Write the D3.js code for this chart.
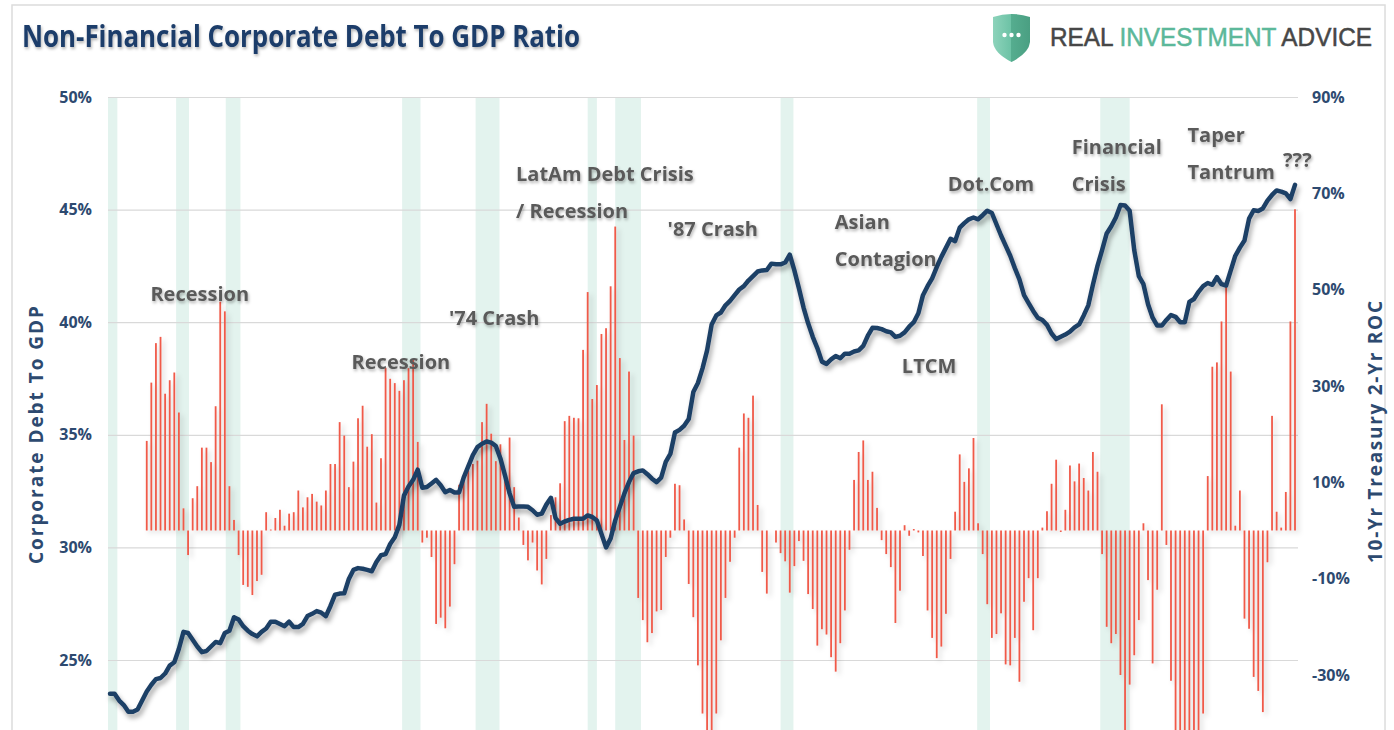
<!DOCTYPE html>
<html>
<head>
<meta charset="utf-8">
<script src="https://cdn.jsdelivr.net/npm/d3@7/dist/d3.min.js"></script>
<style>
  body { margin: 0; background: #fff; }
  svg { display: block; font-family: "Open Sans", sans-serif; }
</style>
</head>
<body>
<div id="chart"></div>
<script>
// Set the stage
var svgWidth = 1394;
var svgHeight = 730;
var plotLeft = 108, plotRight = 1298, plotTop = 97;

// quarterly debt / GDP (%), first point 1954 Q1
var startYear = 1954;
var debtRatio = [
  23.5, 23.5, 23.2, 23.0, 22.7, 22.7, 22.8, 23.2, 23.6, 23.9,
  24.15, 24.2, 24.4, 24.75, 24.9, 25.5, 26.25, 26.2, 25.9, 25.6,
  25.35, 25.4, 25.6, 25.8, 25.75, 26.2, 26.3, 26.9, 26.8, 26.5,
  26.3, 26.15, 26.05, 26.25, 26.4, 26.7, 26.7, 26.6, 26.5, 26.7,
  26.46, 26.46, 26.6, 26.95, 27.05, 27.17, 27.1, 26.95, 27.4, 27.9,
  27.95, 27.96, 28.6, 29.0, 29.08, 29.05, 29.0, 28.94, 29.35, 29.65,
  29.7, 30.15, 30.45, 31.0, 32.3, 32.7, 33.0, 33.45, 32.65, 32.68,
  32.84, 33.0, 32.76, 32.45, 32.55, 32.44, 32.44, 33.1, 33.6, 34.1,
  34.45, 34.6, 34.7, 34.65, 34.5, 33.95, 33.2, 32.4, 31.8, 31.82,
  31.82, 31.8, 31.65, 31.45, 31.5, 31.9, 32.2, 31.3, 31.05, 31.15,
  31.22, 31.27, 31.27, 31.27, 31.42, 31.35, 31.19, 30.6, 30.0, 30.4,
  31.2, 31.8, 32.4, 32.9, 33.3, 33.38, 33.42, 33.25, 33.05, 32.9,
  33.1, 33.8, 34.15, 35.1, 35.22, 35.4, 35.7, 36.9, 37.3, 37.95,
  38.75, 39.9, 40.3, 40.43, 40.75, 40.95, 41.2, 41.45, 41.6, 41.85,
  42.05, 42.25, 42.3, 42.32, 42.6, 42.57, 42.57, 42.65, 43.0, 42.3,
  41.5, 40.65, 39.95, 39.35, 38.85, 38.25, 38.15, 38.35, 38.5, 38.4,
  38.6, 38.6, 38.7, 38.75, 38.95, 39.4, 39.75, 39.74, 39.69, 39.6,
  39.55, 39.35, 39.4, 39.55, 39.8, 40.0, 40.4, 41.2, 41.6, 41.95,
  42.45, 42.9, 43.3, 43.7, 43.6, 44.2, 44.4, 44.57, 44.65, 44.57,
  44.75, 44.95, 44.85, 44.35, 43.85, 43.4, 42.95, 42.4, 41.9, 41.2,
  40.85, 40.5, 40.2, 40.1, 39.88, 39.5, 39.25, 39.35, 39.45, 39.58,
  39.77, 39.9, 40.3, 40.75, 41.66, 42.5, 43.2, 43.94, 44.26, 44.65,
  45.2, 45.18, 44.95, 43.2, 42.05, 41.69, 40.8, 40.2, 39.85, 39.85,
  40.1, 40.32, 40.24, 40.0, 40.0, 40.9, 41.03, 41.35, 41.6, 41.74,
  41.66, 42.0, 41.69, 41.63, 42.29, 42.95, 43.31, 43.63, 44.6, 44.97,
  44.94, 45.05, 45.4, 45.65, 45.85, 45.8, 45.72, 45.47, 46.1
];

// quarterly 10-yr treasury 2-yr rate of change (%), first point 1956 Q1
var rocStartYear = 1956;
var roc = [
  18.6, 30.7, 38.9, 40.2, 28.4, 31.2, 32.8, 24.5, 4.6, -5.1,
  6.7, 9.2, 17.2, 17.2, 14.2, 25.8, 47.5, 45.5, 9.2, 2.2,
  -5.1, -11.3, -11.7, -13.4, -10.5, -9.2, 3.8, 0.2, 2.6, 4.3,
  1.0, 3.5, 3.8, 8.3, 4.8, 6.9, 7.6, 6.0, 5.2, 8.3,
  13.8, 13.8, 22.5, 19.7, 9.0, 14.3, 23.3, 25.9, 17.4, 20.0,
  5.8, 15.0, 33.8, 31.5, 30.6, 29.0, 31.2, 33.7, 35.5, 18.4,
  -2.5, -1.5, -5.5, -19.4, -18.1, -20.3, -15.8, -7.0, 9.5, 10.3,
  12.5, 13.8, 14.5, 22.5, 26.3, 20.1, 14.4, 17.9, 12.0, 19.3,
  9.0, 2.7, -3.0, -6.2, -2.5, -8.3, -11.2, -5.9, 3.2, 6.9,
  9.8, 22.7, 23.8, 23.4, 23.3,
  37.5, 49.5, 27.3, 30.2, 40.8, 42.0, 50.7, 63.1, 35.8, 18.8,
  33.0, 19.7, -14.0, -18.6, -23.2, -21.3, -16.8, -16.5, -5.5, -1.5,
  9.7, 9.4, 2.3, -11.1, -18.0, -28.0, -38.0, -42, -42, -38.0,
  -22.8, -14.0, -6.5, -1.5, 17.2, 24.3, 23.4, 28.0, 5.3, -8.6,
  -13.1, 0, -2.5, -4.7, -6.4, -12.9, -7.4, -2.2, -6.3, -13.2,
  -16.3, -23.9, -20.5, -21.6, -26.3, -29.3, -23.4, -16.6, -4.0, 10.5,
  16.3, 18.7, 10.5, 12.2, 4.7, -2.0, -4.9, -7.6, -19.2, -12.5,
  1.1, -1.1, 0.3, -0.4, -5.3, -16.6, -22.3, -26.5, -24.1, -17.3,
  -5.9, 3.9, 15.8, 10.1, 12.9, 19.2, 1.5, -4.9, -15.3, -22.3,
  -21.5, -17.2, -27.8, -28.0, -22.3, -31.4, -14.8, -9.9, -20.7, -9.9,
  0.6, 4.0, 9.7, 14.7, -0.3,
  4.3, 13.5, 10.2, 13.9, 10.9, 8.3, 16.3, 12.2, -4.9, -20.0,
  -23.4, -21.5, -30.0, -42, -32.0, -25.9, -18.6, 1.5, -10.3, -27.6,
  -12.3, 26.2, -3.0, -31.2, -42, -42, -42, -42, -42, -42,
  -38.0, 11.3, 34.0, 34.9, 43.4, 51.1, 33.0, 1.0, 8.3, -18.3,
  -20.4, -30.4, -33.3, -37.7, -6.6, 23.8, 3.9, 0.6, 8.0, 43.4, 66.7
];

// recessions (decimal years)
var recessionStart = [1953.5, 1957.6, 1960.3, 1969.9, 1973.9, 1980.0, 1981.5, 1990.5, 2001.2, 2007.9];
var recessionEnd   = [1954.4, 1958.3, 1961.1, 1970.9, 1975.2, 1980.5, 1982.9, 1991.2, 2001.9, 2009.5];

// axis ticks
var leftTicks = [25, 30, 35, 40, 45, 50];
var rightTicks = [-30, -10, 10, 30, 50, 70, 90];

// event notes, anchored at (year, debt %) of their first line
var noteLines = [["Recession"], ["Recession"], ["'74 Crash"], ["LatAm Debt Crisis", "/ Recession"],
  ["'87 Crash"], ["Asian", "Contagion"], ["LTCM"], ["Dot.Com"], ["Financial", "Crisis"],
  ["Taper", "Tantrum"], ["???"]];
var noteYear  = [1956.2, 1967.15, 1972.45, 1976.1, 1984.35, 1993.45, 1997.1, 1999.6, 2006.35, 2012.65, 2017.85];
var noteValue = [41.25, 38.25, 40.2, 46.6, 44.15, 44.45, 38.05, 46.15, 47.8, 48.3, 47.2];

// build rows
var debtData = debtRatio.map(function(v, i) { return { t: startYear + i / 4, v: v }; });
var rocData = roc.map(function(v, i) { return { t: rocStartYear + i / 4, v: v }; });

var svg = d3.select("#chart")
  .append("svg")
  .attr("width", svgWidth)
  .attr("height", svgHeight);

var defs = svg.append("defs");
var sh = defs.append("filter").attr("id", "lineShadow")
  .attr("x", "-5%").attr("y", "-5%").attr("width", "110%").attr("height", "115%");
sh.append("feDropShadow").attr("dx", 2).attr("dy", 4).attr("stdDeviation", 2.5)
  .attr("flood-color", "#000").attr("flood-opacity", 0.35);
var bsh = defs.append("filter").attr("id", "barShadow")
  .attr("x", "-5%").attr("y", "-5%").attr("width", "110%").attr("height", "115%");
bsh.append("feDropShadow").attr("dx", 3).attr("dy", 3).attr("stdDeviation", 2.5)
  .attr("flood-color", "#000").attr("flood-opacity", 0.18);
var tsh = defs.append("filter").attr("id", "textShadow")
  .attr("x", "-10%").attr("y", "-20%").attr("width", "120%").attr("height", "150%");
tsh.append("feDropShadow").attr("dx", 1).attr("dy", 2).attr("stdDeviation", 1.5)
  .attr("flood-color", "#000").attr("flood-opacity", 0.3);
var shieldL = defs.append("linearGradient").attr("id", "shieldGrad")
  .attr("x1", 0).attr("x2", 1).attr("y1", 0).attr("y2", 0);
shieldL.append("stop").attr("offset", "0%").attr("stop-color", "#8dd3bb");
shieldL.append("stop").attr("offset", "50%").attr("stop-color", "#6cc2a5");
shieldL.append("stop").attr("offset", "50%").attr("stop-color", "#55ad8f");
shieldL.append("stop").attr("offset", "100%").attr("stop-color", "#4a9f82");

// frame
svg.append("rect")
  .attr("x", 12).attr("y", 5)
  .attr("width", 1373).attr("height", 760)
  .attr("fill", "none").attr("stroke", "#dcdcdc").attr("stroke-width", 1.5);

// scales
var x = d3.scaleLinear().domain([1954, 2018.5]).range([110, 1295]);
var yLeft = d3.scaleLinear().domain([25, 50]).range([660, plotTop]);
var yRight = d3.scaleLinear().domain([-30, 90]).range([675, plotTop]);

// recession bands
svg.append("g").selectAll("rect")
  .data(recessionStart)
  .enter()
  .append("rect")
  .attr("x", function(d) { return Math.max(plotLeft, x(d)); })
  .attr("width", function(d, i) { return x(recessionEnd[i]) - Math.max(plotLeft, x(d)); })
  .attr("y", plotTop)
  .attr("height", svgHeight - plotTop + 20)
  .attr("fill", "#e3f3ee");

// gridlines off the left axis
var grid = svg.append("g")
  .attr("transform", "translate(" + plotLeft + ",0)")
  .call(d3.axisLeft(yLeft).tickValues(leftTicks).tickSize(-(plotRight - plotLeft)).tickFormat(""));
grid.select(".domain").remove();
grid.selectAll("line").attr("stroke", "#d9d9d9").attr("stroke-width", 1.2);

// left axis labels
var leftAxis = svg.append("g")
  .attr("transform", "translate(" + (plotLeft - 14) + ",0)")
  .call(d3.axisLeft(yLeft).tickValues(leftTicks).tickSize(0).tickPadding(2)
    .tickFormat(function(d) { return d + "%"; }));
leftAxis.select(".domain").remove();
leftAxis.selectAll("text")
  .attr("font-family", "'Open Sans', sans-serif")
  .attr("font-size", "16px").attr("font-weight", 700).attr("fill", "#2d4a70");

// right axis labels
var rightAxis = svg.append("g")
  .attr("transform", "translate(" + (plotRight + 12) + ",0)")
  .call(d3.axisRight(yRight).tickValues(rightTicks).tickSize(0).tickPadding(2)
    .tickFormat(function(d) { return d + "%"; }));
rightAxis.select(".domain").remove();
rightAxis.selectAll("text")
  .attr("font-family", "'Open Sans', sans-serif")
  .attr("font-size", "16px").attr("font-weight", 700).attr("fill", "#2d4a70");

// axis titles
svg.append("text")
  .attr("transform", "translate(43,435) rotate(-90)")
  .attr("text-anchor", "middle")
  .attr("font-size", "19px").attr("font-weight", 700).attr("fill", "#2d4a70")
  .attr("textLength", 258).attr("lengthAdjust", "spacing")
  .text("Corporate Debt To GDP");
svg.append("text")
  .attr("transform", "translate(1382,432) rotate(-90)")
  .attr("text-anchor", "middle")
  .attr("font-size", "19px").attr("font-weight", 700).attr("fill", "#2d4a70")
  .attr("textLength", 262).attr("lengthAdjust", "spacing")
  .text("10-Yr Treasury 2-Yr ROC");

// ROC bars
svg.append("g")
  .attr("filter", "url(#barShadow)")
  .selectAll("rect")
  .data(rocData)
  .enter()
  .append("rect")
  .attr("x", function(d) { return x(d.t) - 0.9; })
  .attr("width", 1.8)
  .attr("y", function(d) { return Math.min(yRight(0), yRight(d.v)); })
  .attr("height", function(d) { return Math.abs(yRight(d.v) - yRight(0)); })
  .attr("fill", "#f05a4a");

// debt line
var debtLine = d3.line()
  .x(function(d) { return x(d.t); })
  .y(function(d) { return yLeft(d.v); });

svg.append("path")
  .datum(debtData)
  .attr("d", debtLine)
  .attr("fill", "none")
  .attr("stroke", "#1f3f66")
  .attr("stroke-width", 4.5)
  .attr("stroke-linejoin", "round")
  .attr("stroke-linecap", "round")
  .attr("filter", "url(#lineShadow)");

// event notes
var notes = svg.append("g")
  .attr("font-size", "20px").attr("font-weight", 700).attr("fill", "#5a5a5a")
  .attr("filter", "url(#textShadow)");
noteLines.forEach(function(lines, i) {
  var t = notes.append("text")
    .attr("x", x(noteYear[i]))
    .attr("y", yLeft(noteValue[i]) + 7);
  lines.forEach(function(s, k) {
    t.append("tspan")
      .attr("x", x(noteYear[i]))
      .attr("dy", k === 0 ? 0 : 37)
      .text(s);
  });
});

// title
svg.append("text")
  .attr("x", 22).attr("y", 47)
  .attr("font-family", "'Liberation Sans Narrow', 'Open Sans', sans-serif")
  .attr("font-size", "31px").attr("font-weight", 700)
  .attr("fill", "#1f3e6b")
  .attr("textLength", 558).attr("lengthAdjust", "spacingAndGlyphs")
  .attr("filter", "url(#textShadow)")
  .text("Non-Financial Corporate Debt To GDP Ratio");

// logo
var logo = svg.append("g");
logo.append("path")
  .attr("d", "M993,17 Q1011.5,11 1030,17 L1030,42 Q1029,53 1011.5,62 Q994,53 993,42 Z")
  .attr("fill", "url(#shieldGrad)");
[1004.5, 1011.5, 1018.5].forEach(function(cx) {
  logo.append("circle").attr("cx", cx).attr("cy", 35).attr("r", 2.2).attr("fill", "#fff");
});
var brand = logo.append("text")
  .attr("x", 1050).attr("y", 46)
  .attr("font-family", "'Liberation Sans', Arial, sans-serif")
  .attr("font-size", "25px")
  .attr("stroke-width", 0.5)
  .attr("textLength", 322).attr("lengthAdjust", "spacingAndGlyphs");
brand.append("tspan").attr("fill", "#474747").attr("stroke", "#474747").text("REAL ");
brand.append("tspan").attr("fill", "#5cb89a").attr("stroke", "#5cb89a").text("INVESTMENT ");
brand.append("tspan").attr("fill", "#474747").attr("stroke", "#474747").text("ADVICE");
</script>
</body>
</html>
